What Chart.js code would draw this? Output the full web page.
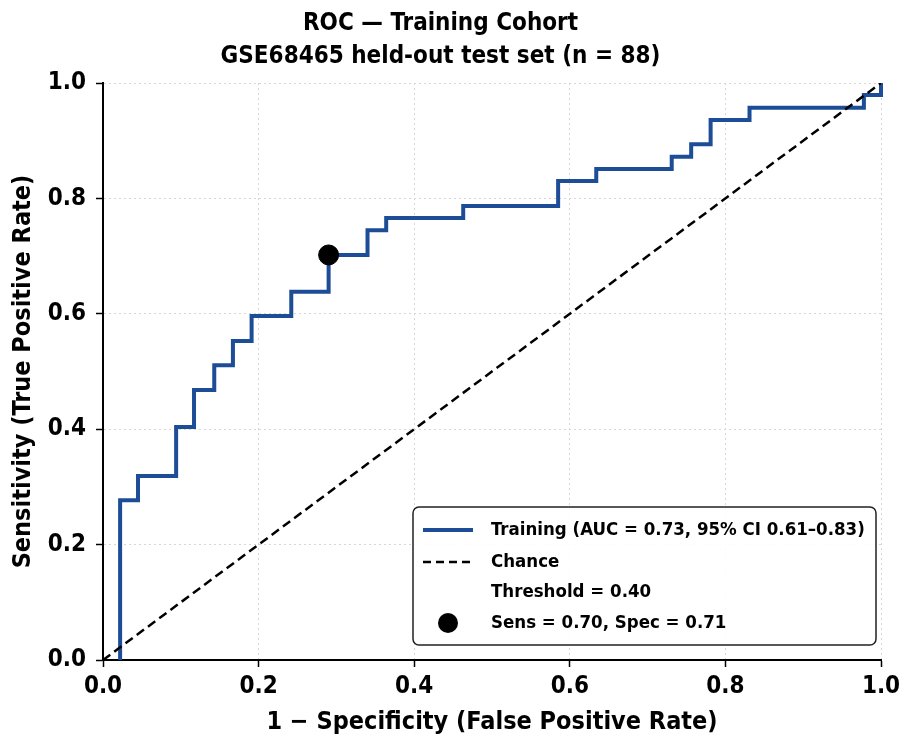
<!DOCTYPE html>
<html>
<head>
<meta charset="utf-8">
<script src="https://cdn.jsdelivr.net/npm/chart.js@4/dist/chart.umd.min.js"></script>
<style>
  html, body { margin: 0; padding: 0; background: #fff; }
  #wrap { width: 901px; height: 740px; }
</style>
</head>
<body>
<div id="wrap"><canvas id="roc" width="901" height="740"></canvas></div>
<script>
// ROC curve corners (false positive rate, true positive rate)
var fpr = [0.022, 0.022, 0.045, 0.094, 0.117, 0.143, 0.167, 0.191, 0.242, 0.290, 0.340, 0.364, 0.463, 0.585, 0.634, 0.731, 0.756, 0.781, 0.831, 0.978, 1.0];
var tpr = [0, 0.277, 0.319, 0.404, 0.468, 0.511, 0.553, 0.596, 0.638, 0.702, 0.745, 0.766, 0.787, 0.830, 0.851, 0.872, 0.894, 0.936, 0.957, 0.979, 1.0];
var chanceX = [0, 1];
var chanceY = [0, 1];
var opPoint = [0.290, 0.702];
var tickVals = [0, 0.2, 0.4, 0.6, 0.8, 1.0];

var titleLines = ["ROC \u2014 Training Cohort", "GSE68465 held-out test set (n = 88)"];
var legendLabels = [
  "Training (AUC = 0.73, 95% CI 0.61\u20130.83)",
  "Chance",
  "Threshold = 0.40",
  "Sens = 0.70, Spec = 0.71"
];

var FONT = "'DejaVu Sans Condensed', 'DejaVu Sans', sans-serif";
var BLUE = "#1c4d96";

function toPoints(xs, ys) {
  return xs.map(function (x, i) { return { x: x, y: ys[i] }; });
}

// legend box drawn inside the plot, lower right
var insideLegend = {
  id: 'insideLegend',
  afterDraw: function (chart) {
    var ctx = chart.ctx;
    var x = 413, y = 507, w = 463, h = 138, r = 6;
    ctx.save();
    ctx.beginPath();
    ctx.moveTo(x + r, y);
    ctx.arcTo(x + w, y, x + w, y + h, r);
    ctx.arcTo(x + w, y + h, x, y + h, r);
    ctx.arcTo(x, y + h, x, y, r);
    ctx.arcTo(x, y, x + w, y, r);
    ctx.closePath();
    ctx.fillStyle = "rgba(255,255,255,0.9)";
    ctx.fill();
    ctx.lineWidth = 1.5;
    ctx.strokeStyle = "#222";
    ctx.stroke();

    var rows = [530, 562, 592, 623];
    // line sample
    ctx.lineWidth = 4;
    ctx.strokeStyle = BLUE;
    ctx.beginPath(); ctx.moveTo(423, rows[0]); ctx.lineTo(473, rows[0]); ctx.stroke();
    // dashed sample
    ctx.lineWidth = 2.5;
    ctx.strokeStyle = "#000";
    ctx.setLineDash([8, 5]);
    ctx.beginPath(); ctx.moveTo(423, rows[1]); ctx.lineTo(473, rows[1]); ctx.stroke();
    ctx.setLineDash([]);
    // marker
    ctx.fillStyle = "#000";
    ctx.beginPath(); ctx.arc(448, rows[3], 10, 0, Math.PI * 2); ctx.fill();

    ctx.font = "bold 18.5px " + FONT;
    ctx.textBaseline = "middle";
    ctx.textAlign = "left";
    for (var i = 0; i < legendLabels.length; i++) {
      ctx.fillText(legendLabels[i], 491, rows[i]);
    }
    ctx.restore();
  }
};

var ctx = document.getElementById('roc').getContext('2d');
var rocChart = new Chart(ctx, {
  type: 'scatter',
  data: {
    datasets: [
      {
        label: 'operating point',
        data: [{ x: opPoint[0], y: opPoint[1] }],
        pointRadius: 10,
        pointBackgroundColor: '#000',
        pointBorderColor: '#000',
        showLine: false,
        order: 0
      },
      {
        label: 'Chance',
        data: toPoints(chanceX, chanceY),
        showLine: true,
        borderColor: '#000',
        borderWidth: 2.5,
        borderDash: [9, 5],
        pointRadius: 0,
        fill: false,
        order: 1
      },
      {
        label: 'Training',
        data: toPoints(fpr, tpr),
        showLine: true,
        stepped: 'before',
        borderColor: BLUE,
        borderWidth: 4,
        pointRadius: 0,
        fill: false,
        clip: false,
        order: 2
      }
    ]
  },
  options: {
    responsive: false,
    animation: false,
    layout: { padding: { top: 0, right: 20, bottom: 0, left: 0 } },
    plugins: {
      legend: { display: false },
      tooltip: { enabled: false },
      title: {
        display: true,
        text: titleLines,
        color: '#000',
        font: { family: FONT, size: 24, weight: 'bold', lineHeight: 1.375 },
        padding: { top: 7, bottom: 10 }
      }
    },
    scales: {
      x: {
        type: 'linear',
        min: 0, max: 1,
        afterBuildTicks: function (s) { s.ticks = tickVals.map(function (v) { return { value: v }; }); },
        afterFit: function (s) { s.height = 80; s.paddingRight = 10; },
        ticks: {
          color: '#000',
          padding: 5,
          font: { family: FONT, size: 24, weight: 'bold' },
          callback: function (v) { return Number(v).toFixed(1); }
        },
        grid: { color: '#d6d6d6', lineWidth: 1, tickLength: 7, tickColor: '#000', tickWidth: 1.5 },
        border: { display: true, color: '#000', width: 2, dash: [2, 3] },
        title: {
          display: true,
          text: '1 \u2212 Specificity (False Positive Rate)',
          color: '#000',
          font: { family: FONT, size: 25, weight: 'bold' },
          padding: { top: 0, bottom: 3 }
        }
      },
      y: {
        type: 'linear',
        min: 0, max: 1,
        afterBuildTicks: function (s) { s.ticks = tickVals.map(function (v) { return { value: v }; }); },
        afterFit: function (s) { s.width = 103; },
        ticks: {
          color: '#000',
          padding: 10,
          font: { family: FONT, size: 24, weight: 'bold' },
          callback: function (v) { return Number(v).toFixed(1); }
        },
        grid: { color: '#d6d6d6', lineWidth: 1, tickLength: 7, tickColor: '#000', tickWidth: 1.5 },
        border: { display: true, color: '#000', width: 2, dash: [2, 3] },
        title: {
          display: true,
          text: 'Sensitivity (True Positive Rate)',
          color: '#000',
          font: { family: FONT, size: 25, weight: 'bold' },
          padding: { top: 8, bottom: 0 }
        }
      }
    }
  },
  plugins: [insideLegend]
});
</script>
</body>
</html>
